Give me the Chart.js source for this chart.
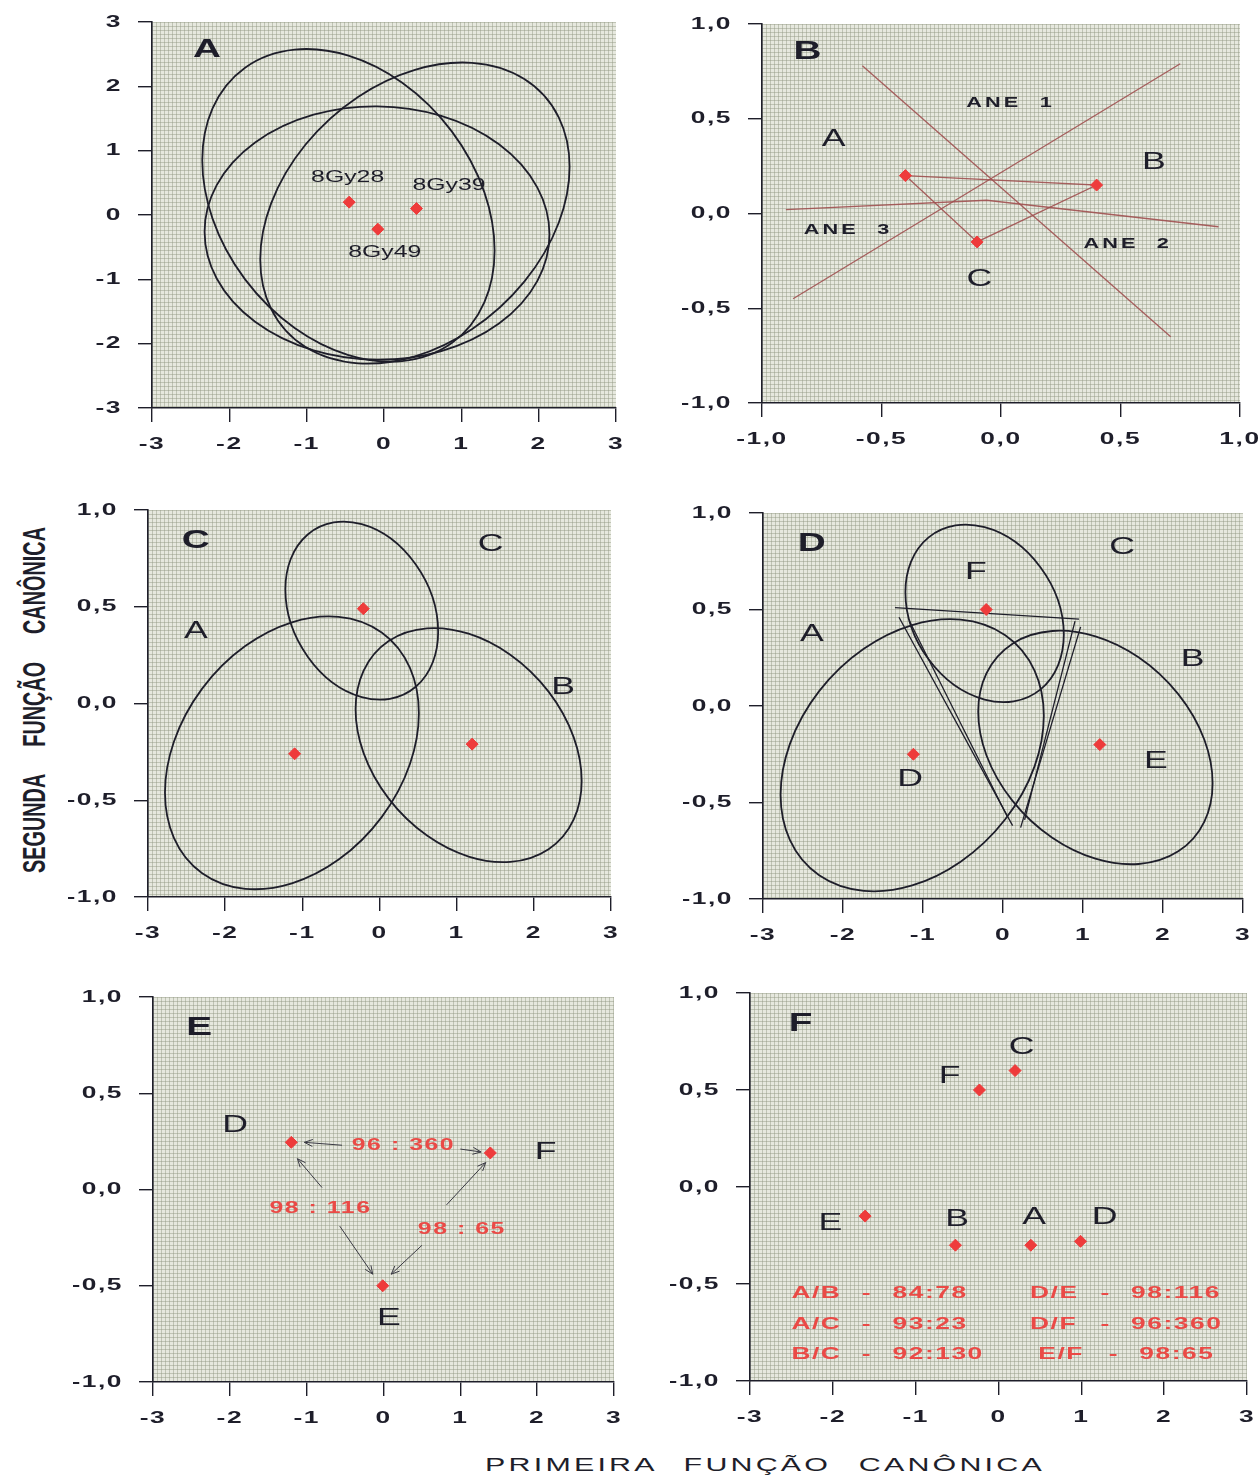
<!DOCTYPE html>
<html>
<head>
<meta charset="utf-8">
<script src="https://cdn.jsdelivr.net/npm/chart.js@4.4.1/dist/chart.umd.min.js"></script>
<style>
html, body { margin: 0; padding: 0; background: #fff; width: 1259px; height: 1479px; overflow: hidden; position: relative; }
canvas { position: absolute; }
.ttl { position: absolute; color: #1e1e2a; font-family: "Liberation Sans", Arial, sans-serif; white-space: nowrap; }
#yTitle { left: 34px; top: 700px; font-size: 32px; font-weight: bold; word-spacing: 36px;
  transform: translate(-50%, -50%) rotate(-90deg) scaleX(0.62); }
#xTitle { left: 765px; top: 1465px; font-size: 19px; letter-spacing: 2px; word-spacing: 10px;
  transform: translate(-50%, -50%) scaleX(1.6); }
</style>
</head>
<body>
<canvas id="pA"></canvas>
<canvas id="pB"></canvas>
<canvas id="pC"></canvas>
<canvas id="pD"></canvas>
<canvas id="pE"></canvas>
<canvas id="pF"></canvas>
<div id="yTitle" class="ttl">SEGUNDA FUNÇÃO CANÔNICA</div>
<div id="xTitle" class="ttl">PRIMEIRA FUNÇÃO CANÔNICA</div>
<script>
// tick values
const ticksInt = [-3, -2, -1, 0, 1, 2, 3];
const ticksHalf = [-1, -0.5, 0, 0.5, 1];

// A: three doses, group centroids and confidence ellipses
const gyLabels = ['8Gy28', '8Gy39', '8Gy49'];
const gyX = [-0.45, 0.42, -0.08];
const gyY = [0.20, 0.10, -0.22];
// ellipse = centre x, centre y, half width, half height, y at its rightmost point
const gyEllipses = [
  [-0.46, 0.15, 1.89, 2.43, -0.55],
  [0.40, 0.03, 2.00, 2.34, 0.75],
  [-0.09, -0.28, 2.23, 1.97, -0.30]
];

// B: canonical means and the three ANE axes
const bGroups = ['A', 'B', 'C'];
const bX = [-0.40, 0.40, -0.10];
const bY = [0.20, 0.15, -0.15];
const aneLineX = [[-0.58, 0.71], [-0.87, 0.75], [-0.90, -0.06, 0.91]];
const aneLineY = [[0.78, -0.65], [-0.45, 0.79], [0.02, 0.07, -0.07]];

// C and D: groups A, B, C with ellipses
const abcX = [-1.10, 1.20, -0.21];
const abcY = [-0.26, -0.21, 0.49];
const dX = [-1.12, 1.21, -0.21];
const dY = [-0.25, -0.20, 0.50];
const abcEllipses = [
  [-1.135, -0.255, 1.645, 0.705, -0.05],
  [1.155, -0.215, 1.465, 0.605, -0.40],
  [-0.23, 0.48, 0.99, 0.46, 0.37]
];
const dLineX = [[-1.35, 0.95], [-1.30, 0.12], [-1.17, 0.05], [0.97, 0.22], [0.90, 0.27]];
const dLineY = [[0.51, 0.45], [0.46, -0.62], [0.44, -0.57], [0.41, -0.63], [0.44, -0.59]];

// E: groups D, F, E and the paired ratios
const eGroups = ['D', 'F', 'E'];
const eX = [-1.20, 1.39, -0.01];
const eY = [0.245, 0.19, -0.50];
const eRatios = ['96 : 360', '98 : 116', '98 : 65'];
const arrowFromX = [-0.54, 1.00, -0.80, -0.57, 0.82, 0.50];
const arrowFromY = [0.23, 0.21, 0.01, -0.19, -0.08, -0.29];
const arrowToX = [-1.03, 1.27, -1.12, -0.14, 1.33, 0.10];
const arrowToY = [0.245, 0.195, 0.16, -0.44, 0.14, -0.44];

// F: all six groups
const fGroups = ['C', 'F', 'E', 'B', 'A', 'D'];
const fX = [0.20, -0.23, -1.61, -0.52, 0.39, 0.99];
const fY = [0.60, 0.50, -0.15, -0.30, -0.30, -0.28];
const fPairs = ['A/B', 'A/C', 'B/C', 'D/E', 'D/F', 'E/F'];
const fValues = ['84:78', '93:23', '92:130', '98:116', '96:360', '98:65'];

const INK = '#1e1e2a';
const RED = '#ee3b3b';
const RED_TXT = '#ea4a46';
const LINE_RED = 'rgba(160,80,80,0.9)';
const SX = 1.55; // the scan is stretched sideways, so is all lettering

function drawText(ctx, s, x, y, o) {
  o = o || {};
  ctx.save();
  ctx.font = (o.weight || 'bold') + ' ' + (o.size || 17) + 'px "Liberation Sans", Arial, sans-serif';
  ctx.letterSpacing = (o.spacing || 0) + 'px';
  ctx.fillStyle = o.color || INK;
  ctx.textBaseline = 'middle';
  ctx.textAlign = 'left';
  const w = ctx.measureText(s).width * SX;
  const x0 = o.align === 'left' ? x : o.align === 'right' ? x - w : x - w / 2;
  ctx.translate(x0, y);
  ctx.scale(SX, 1);
  ctx.fillText(s, 0, 0);
  ctx.restore();
}

function paperPattern(ctx) {
  const c = document.createElement('canvas');
  c.width = 4; c.height = 4;
  const g = c.getContext('2d');
  g.fillStyle = '#e6e8de';
  g.fillRect(0, 0, 4, 4);
  g.fillStyle = 'rgba(145,150,128,0.45)';
  g.fillRect(0, 0, 1, 4);
  g.fillRect(0, 0, 4, 1);
  return ctx.createPattern(c, 'repeat');
}

function drawEllipse(ctx, xs, ys, e) {
  const [cx, cy, w, h, yR] = e;
  const s = Math.max(-1, Math.min(1, (yR - cy) / h));
  const c = Math.sqrt(1 - s * s);
  const px = xs.getPixelForValue(cx), py = ys.getPixelForValue(cy);
  const ux = xs.getPixelForValue(cx + w) - px;
  const uy = ys.getPixelForValue(cy + h * s) - py;
  const vy = ys.getPixelForValue(cy + h * c) - py;
  ctx.save();
  ctx.beginPath();
  ctx.save();
  ctx.transform(ux, uy, 0, vy, px, py);
  ctx.arc(0, 0, 1, 0, Math.PI * 2);
  ctx.restore();
  ctx.strokeStyle = INK;
  ctx.lineWidth = 1.8;
  ctx.stroke();
  ctx.restore();
}

function axis(ticks, pos, fitKey, fitVal) {
  return {
    type: 'linear', position: pos, min: ticks[0], max: ticks[ticks.length - 1],
    afterBuildTicks: s => { s.ticks = ticks.map(v => ({ value: v })); },
    afterFit: s => { s[fitKey] = fitVal; },
    grid: { drawOnChartArea: false, drawTicks: true, tickLength: 14, color: INK, lineWidth: 1.4 },
    border: { display: true, color: INK, width: 1.6 },
    ticks: { display: false }
  };
}

function fmt(v, dec) {
  return dec ? v.toFixed(1).replace('.', ',') : String(v);
}

function points(xs, ys) {
  return {
    type: 'scatter', data: xs.map((x, i) => ({ x: x, y: ys[i] })),
    pointStyle: 'rectRot', pointRadius: 6, backgroundColor: RED, borderColor: RED, order: 0
  };
}

function line(xs, ys, color, width) {
  return {
    type: 'scatter', showLine: true, data: xs.map((x, i) => ({ x: x, y: ys[i] })),
    pointRadius: 0, borderColor: color, borderWidth: width, order: 1
  };
}

// rect = plot area [left, top, right, bottom] on the page
function panel(id, rect, xTicks, yTicks, datasets, extra) {
  const [L, T, R, B] = rect;
  const cv = document.getElementById(id);
  cv.width = R - L + 98; cv.height = B - T + 57;
  cv.style.left = (L - 80) + 'px'; cv.style.top = (T - 12) + 'px';
  cv.style.width = cv.width + 'px'; cv.style.height = cv.height + 'px';
  const xDec = xTicks !== ticksInt, yDec = yTicks !== ticksInt;
  const tickFont = { size: 17, spacing: 1 };
  const scan = {
    id: 'scan' + id,
    beforeDraw(chart) {
      const a = chart.chartArea, ctx = chart.ctx;
      ctx.save();
      ctx.fillStyle = paperPattern(ctx);
      ctx.fillRect(a.left, a.top, a.right - a.left, a.bottom - a.top);
      ctx.restore();
    },
    beforeDatasetsDraw(chart) {
      const xs = chart.scales.x, ys = chart.scales.y;
      (extra.ellipses || []).forEach(e => drawEllipse(chart.ctx, xs, ys, e));
    },
    afterDraw(chart) {
      const ctx = chart.ctx, a = chart.chartArea, xs = chart.scales.x, ys = chart.scales.y;
      xTicks.forEach(v => drawText(ctx, fmt(v, xDec), xs.getPixelForValue(v), a.bottom + 36, tickFont));
      yTicks.forEach(v => drawText(ctx, fmt(v, yDec), a.left - 30, ys.getPixelForValue(v),
        { size: 17, spacing: 1, align: 'right' }));
      (extra.notes || []).forEach(n => {
        drawText(ctx, n[0], xs.getPixelForValue(n[1]), ys.getPixelForValue(n[2]), n[3] || {});
      });
      if (extra.arrows) {
        ctx.save();
        ctx.strokeStyle = '#3a3a44';
        ctx.lineWidth = 1;
        extra.arrows.forEach(ar => {
          const x1 = xs.getPixelForValue(ar[0]), y1 = ys.getPixelForValue(ar[1]);
          const x2 = xs.getPixelForValue(ar[2]), y2 = ys.getPixelForValue(ar[3]);
          const ang = Math.atan2(y2 - y1, x2 - x1);
          ctx.beginPath();
          ctx.moveTo(x2 - 9 * Math.cos(ang - 0.4), y2 - 9 * Math.sin(ang - 0.4));
          ctx.lineTo(x2, y2);
          ctx.lineTo(x2 - 9 * Math.cos(ang + 0.4), y2 - 9 * Math.sin(ang + 0.4));
          ctx.stroke();
        });
        ctx.restore();
      }
    }
  };
  return new Chart(cv.getContext('2d'), {
    type: 'scatter',
    data: { datasets: datasets },
    options: {
      responsive: false, animation: false, devicePixelRatio: 1,
      layout: { padding: { left: 0, top: 12, right: 18, bottom: 0 } },
      plugins: { legend: { display: false }, tooltip: { enabled: false } },
      scales: { x: axis(xTicks, 'bottom', 'height', 45), y: axis(yTicks, 'left', 'width', 80) }
    },
    plugins: [scan]
  });
}

const big = { size: 25, weight: 'bold' };
const letter = { size: 23, weight: 'normal' };
const small = { size: 16, weight: 'normal' };
const ane = { size: 14, weight: 'bold', spacing: 2 };

// A
panel('pA', [152, 22, 616, 408], ticksInt, ticksInt, [points(gyX, gyY)], {
  ellipses: gyEllipses,
  notes: [['A', -2.29, 2.57, big],
    [gyLabels[0], -0.47, 0.58, small], [gyLabels[1], 0.84, 0.45, small], [gyLabels[2], 0.01, -0.58, small]]
});

// B
const triIdx = [0, 1, 2, 0];
panel('pB', [762, 24, 1240, 403], ticksHalf, ticksHalf, [
  points(bX, bY),
  line(triIdx.map(i => bX[i]), triIdx.map(i => bY[i]), LINE_RED, 1.3),
  ...aneLineX.map((xs, i) => line(xs, aneLineY[i], LINE_RED, 1.3))
], {
  notes: [['B', -0.81, 0.85, big], ['ANE  1', 0.04, 0.58, ane], ['ANE  3', -0.64, -0.09, ane], ['ANE  2', 0.53, -0.16, ane],
    [bGroups[0], -0.70, 0.39, letter], [bGroups[1], 0.64, 0.27, letter], [bGroups[2], -0.09, -0.35, letter]]
});

// C
panel('pC', [148, 510, 611, 897], ticksInt, ticksHalf, [points(abcX, abcY)], {
  ellipses: abcEllipses,
  notes: [['C', -2.38, 0.84, big], ['A', -2.38, 0.37, letter], ['B', 2.38, 0.08, letter], ['C', 1.44, 0.82, letter]]
});

// D
panel('pD', [763, 513, 1243, 899], ticksInt, ticksHalf, [
  points(dX, dY),
  ...dLineX.map((xs, i) => line(xs, dLineY[i], INK, 1.3))
], {
  ellipses: abcEllipses,
  notes: [['D', -2.39, 0.84, big], ['A', -2.39, 0.37, letter], ['B', 2.37, 0.24, letter], ['C', 1.49, 0.82, letter],
    ['F', -0.34, 0.69, letter], ['D', -1.16, -0.38, letter], ['E', 1.91, -0.29, letter]]
});

// E
panel('pE', [153, 997, 614, 1382], ticksInt, ticksHalf, [
  points(eX, eY),
  ...arrowFromX.map((x, i) => line([x, arrowToX[i]], [arrowFromY[i], arrowToY[i]], '#3a3a44', 1))
], {
  arrows: arrowFromX.map((x, i) => [x, arrowFromY[i], arrowToX[i], arrowToY[i]]),
  notes: [['E', -2.40, 0.84, big], [eGroups[0], -1.93, 0.33, letter], [eGroups[1], 2.11, 0.19, letter], [eGroups[2], 0.07, -0.67, letter],
    [eRatios[0], 0.26, 0.23, { size: 16, color: RED_TXT, spacing: 1 }],
    [eRatios[1], -0.82, -0.10, { size: 16, color: RED_TXT, spacing: 1 }],
    [eRatios[2], 1.02, -0.21, { size: 16, color: RED_TXT, spacing: 1 }]]
});

// F
const rowY = [-0.546, -0.706, -0.86];
const colX = [-2.5, 0.38];
const tbl = { size: 17, color: RED_TXT, align: 'left', spacing: 1 };
const fNotes = [['F', -2.39, 0.84, big]];
fGroups.forEach((g, i) => fNotes.push([g, [0.28, -0.59, -2.03, -0.50, 0.43, 1.28][i], [0.72, 0.57, -0.19, -0.17, -0.16, -0.16][i], letter]));
fPairs.forEach((p, i) => {
  const c = colX[Math.floor(i / 3)] + (i === 5 ? 0.1 : 0), r = rowY[i % 3];
  fNotes.push([p, c, r, tbl], ['-', c + 0.85, r, tbl], [fValues[i], c + 1.22, r, tbl]);
});
panel('pF', [750, 993, 1247, 1381], ticksInt, ticksHalf, [points(fX, fY)], { notes: fNotes });
</script>
</body>
</html>
